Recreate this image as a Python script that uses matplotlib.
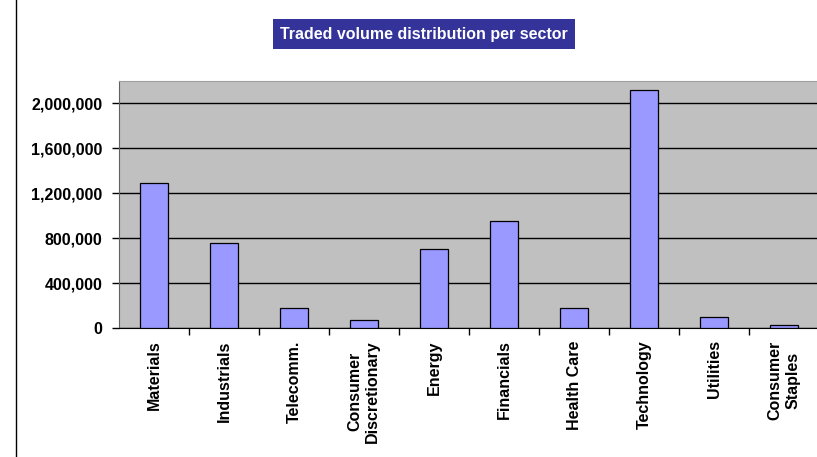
import matplotlib.pyplot as plt
from matplotlib.lines import Line2D
from matplotlib.ticker import FuncFormatter

sectors = ['Materials', 'Industrials', 'Telecomm.', 'Consumer\nDiscretionary', 'Energy',
           'Financials', 'Health Care', 'Technology', 'Utilities', 'Consumer\nStaples']
volume = [1290000, 755000, 178000, 71000, 703000, 950000, 178000, 2118000, 95000, 29000]
yticks = [0, 400000, 800000, 1200000, 1600000, 2000000]

plt.rcParams['font.family'] = ['Liberation Sans', 'DejaVu Sans']
plt.rcParams['font.weight'] = 'bold'

fig = plt.figure(figsize=(8.17, 4.57), dpi=100)
ax = fig.add_axes([119 / 817, 1 - 328 / 457, 700 / 817, 247 / 457])
ax.set_facecolor('#C0C0C0')

x = list(range(len(sectors)))
ax.bar(x, volume, width=0.4, color='#9999FF', edgecolor='black', linewidth=0.9, zorder=3)

ax.set_xlim(-0.5, len(sectors) - 0.5)
ax.set_ylim(0, 2200000)
ax.set_yticks(yticks)
ax.yaxis.set_major_formatter(FuncFormatter(lambda v, p: f'{int(v):,}'))
ax.grid(axis='y', color='black', linewidth=1, zorder=1)

# noms des secteurs au centre, ticks entre les categories
ax.set_xticks([i + 0.5 for i in x[:-1]])
ax.set_xticklabels([])
for i, name in enumerate(sectors):
    ax.text(i, -0.05, name, transform=ax.get_xaxis_transform(), rotation=90,
            ha='center', va='top', fontsize=11.5, fontweight='bold', multialignment='center')

ax.tick_params(axis='y', labelsize=11.5, length=5, width=1, pad=7)
ax.tick_params(axis='x', length=5, width=1, direction='out')

for s in ['top', 'right']:
    ax.spines[s].set_color('#A0A0A0')
ax.spines['left'].set_color('#606060')
ax.spines['bottom'].set_color('black')

fig.text(424 / 817, 1 - 34 / 457, 'Traded volume distribution per sector', color='white',
         fontsize=11.5, fontweight='bold', ha='center', va='center',
         bbox=dict(boxstyle='square,pad=0.45', facecolor='#333399', edgecolor='none'))

fig.add_artist(Line2D([16 / 817, 16 / 817], [0, 1], transform=fig.transFigure, color='black', linewidth=1))

plt.savefig('out.png', dpi=100)
